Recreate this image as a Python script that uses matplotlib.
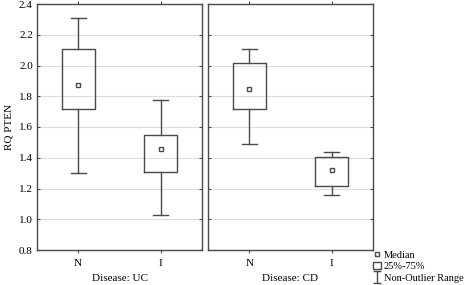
import numpy as np
import matplotlib.pyplot as plt
from matplotlib.path import Path
from matplotlib.lines import Line2D
from matplotlib.patches import Patch

plt.rcParams['font.family'] = ['Liberation Serif', 'DejaVu Serif']

groups = ['N', 'I']
panels = ['Disease: UC', 'Disease: CD']
# per panel: [N, I]
whislo = [[1.30, 1.03], [1.49, 1.16]]
q1 = [[1.72, 1.31], [1.72, 1.215]]
med = [[1.87, 1.46], [1.845, 1.32]]
q3 = [[2.11, 1.55], [2.015, 1.405]]
whishi = [[2.31, 1.775], [2.105, 1.435]]
yticks = [0.8, 1.0, 1.2, 1.4, 1.6, 1.8, 2.0, 2.2, 2.4]

edge = '#4a4a4a'
fs = 8

fig = plt.figure(figsize=(4.72, 2.85), dpi=100)
axes = [fig.add_axes([37 / 472, 35 / 285, 165 / 472, 246 / 285]),
        fig.add_axes([208 / 472, 35 / 285, 165 / 472, 246 / 285])]

for p, ax in enumerate(axes):
    stats = []
    for g in range(len(groups)):
        stats.append({'whislo': whislo[p][g], 'q1': q1[p][g], 'med': med[p][g],
                      'q3': q3[p][g], 'whishi': whishi[p][g], 'fliers': []})
    ax.bxp(stats, positions=range(len(groups)), widths=0.4, showcaps=True,
           boxprops=dict(color=edge, linewidth=1.0),
           whiskerprops=dict(color=edge, linewidth=1.0),
           capprops=dict(color=edge, linewidth=1.0),
           medianprops=dict(linewidth=0), capwidths=0.18)
    ax.plot(range(len(groups)), med[p], linestyle='none', marker='s', markersize=3.5,
            markerfacecolor='white', markeredgecolor=edge, markeredgewidth=1.0, zorder=5)
    ax.set_xlim(-0.5, 1.5)
    ax.set_ylim(0.8, 2.4)
    ax.set_yticks(yticks)
    ax.set_xticks(range(len(groups)))
    ax.set_xticklabels(groups, fontsize=fs)
    ax.set_xlabel(panels[p], fontsize=fs, labelpad=4)
    ax.grid(axis='y', color='#dddddd', linewidth=0.8)
    ax.set_axisbelow(True)
    ax.tick_params(axis='both', direction='in', length=2.5, color=edge, labelsize=fs,
                   top=True, right=True, pad=3)
    ax.tick_params(axis='x', direction='out', length=2.5, pad=4)
    for s in ax.spines.values():
        s.set_color(edge)
        s.set_linewidth(1.0)
    if p == 0:
        ax.set_yticklabels(['%.1f' % t for t in yticks])
        ax.set_ylabel('RQ PTEN', fontsize=fs, labelpad=4)
    else:
        ax.set_yticklabels([])

# whisker-shaped legend marker
whisk = Path([(-0.6, 1), (0.6, 1), (0, 1), (0, -1), (-0.6, -1), (0.6, -1)],
             [Path.MOVETO, Path.LINETO, Path.MOVETO, Path.LINETO, Path.MOVETO, Path.LINETO])
handles = [
    Line2D([], [], linestyle='none', marker='s', markersize=3.5, markerfacecolor='white',
           markeredgecolor=edge, markeredgewidth=1.0),
    Patch(facecolor='white', edgecolor=edge, linewidth=1.0),
    Line2D([], [], linestyle='none', marker=whisk, markersize=9, markeredgecolor=edge,
           markerfacecolor='none', markeredgewidth=1.0),
]
labels = ['Median', '25%-75%', 'Non-Outlier Range']
fig.legend(handles, labels, loc='lower left', bbox_to_anchor=(372 / 472, 0.005),
           frameon=False, fontsize=7.5, handlelength=0.8, handletextpad=0.25,
           labelspacing=0.2, borderaxespad=0, borderpad=0.1)

fig.savefig('out.png', dpi=100)
